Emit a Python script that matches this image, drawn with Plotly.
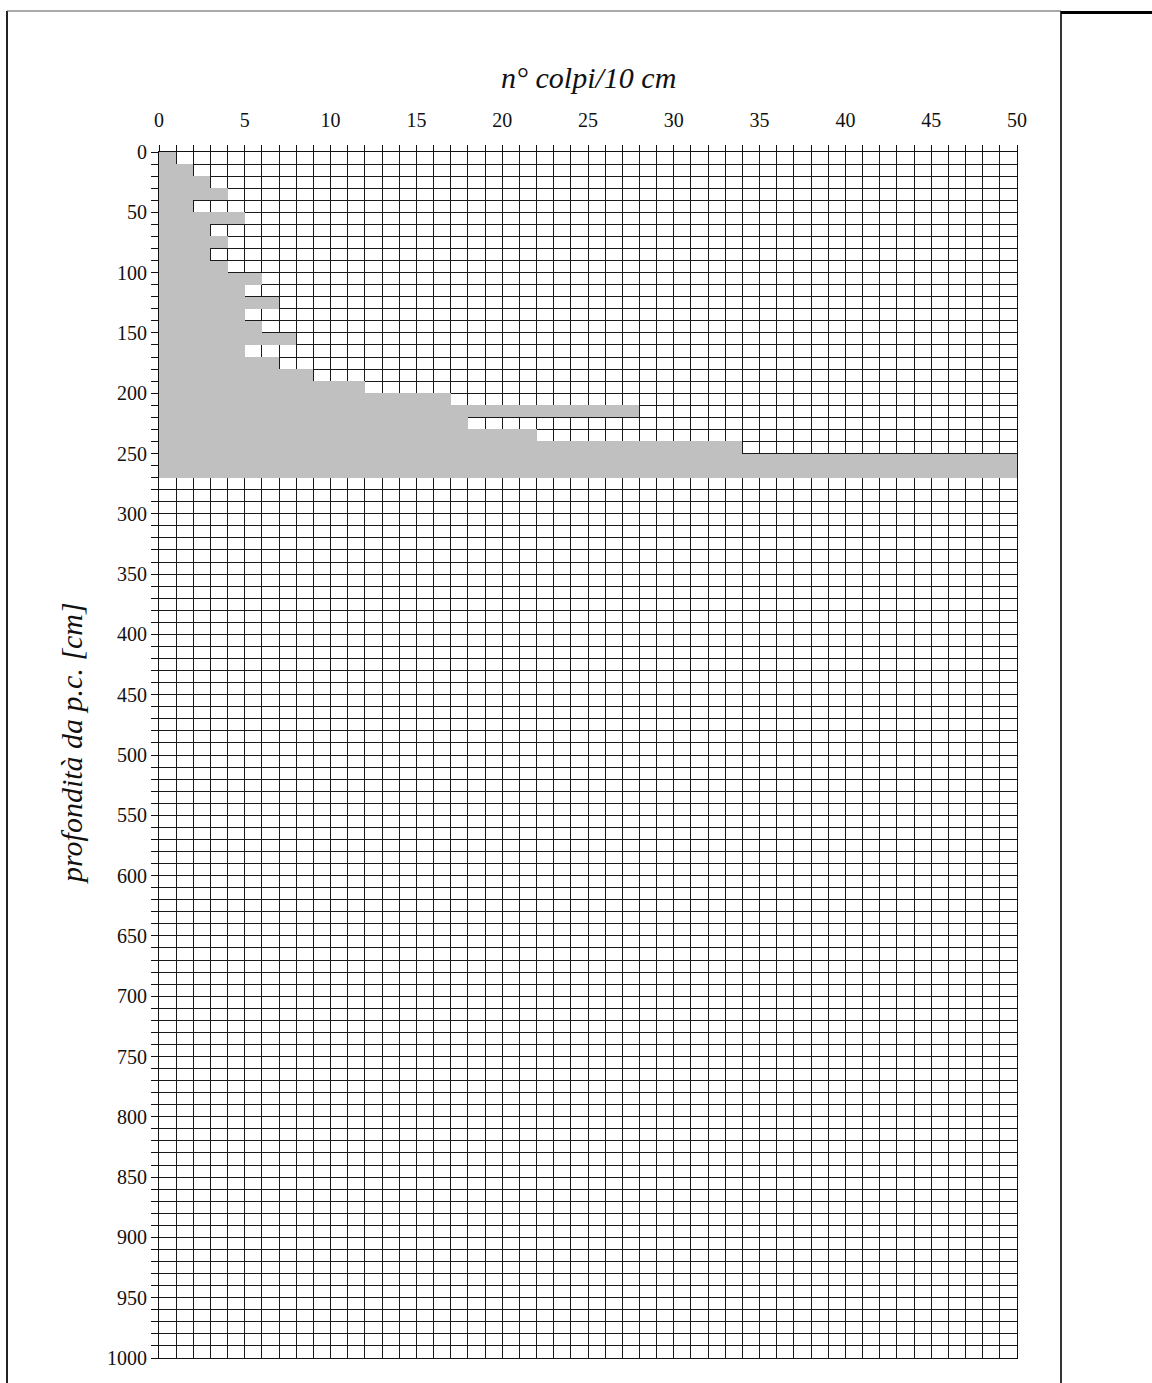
import plotly.graph_objects as go

# Depth intervals (cm, top of each 10 cm step) and blow counts per 10 cm
depth_top = [0, 10, 20, 30, 40, 50, 60, 70, 80, 90, 100, 110, 120, 130, 140,
             150, 160, 170, 180, 190, 200, 210, 220, 230, 240, 250, 260]
blows = [1, 2, 3, 4, 2, 5, 3, 4, 3, 4, 6, 5, 7, 5, 6,
         8, 5, 7, 9, 12, 17, 28, 18, 22, 34, 50, 50]
step = 10
x_ticks = [0, 5, 10, 15, 20, 25, 30, 35, 40, 45, 50]
y_ticks = list(range(0, 1001, 50))

W, H = 1152, 1383
L, R, T, B = 159, 1017, 152, 1358  # plot area in pixels

fig = go.Figure()
fig.add_trace(go.Bar(
    x=blows,
    y=[d + step / 2 for d in depth_top],
    width=[step] * len(depth_top),
    orientation="h",
    marker=dict(color="#c0c0c0", line=dict(width=0)),
    hoverinfo="x+y",
    showlegend=False,
))

font_tick = dict(family="Liberation Serif, Times New Roman, serif", size=20, color="#111")
font_title = dict(family="Liberation Serif, Times New Roman, serif", size=30, color="#111")

fig.update_layout(
    width=W, height=H,
    margin=dict(l=L, r=W - R, t=T, b=H - B, pad=0),
    paper_bgcolor="white", plot_bgcolor="white",
    bargap=0,
    xaxis=dict(
        side="top", range=[0, 50], tickvals=x_ticks,
        ticktext=[str(v) for v in x_ticks],
        ticks="outside", ticklen=6, tickwidth=1, tickcolor="#111",
        showgrid=True, gridcolor="#1a1a1a", gridwidth=1,
        minor=dict(dtick=1, showgrid=True, gridcolor="#1a1a1a", gridwidth=1,
                   ticks="outside", ticklen=6, tickcolor="#111", tickwidth=1),
        showline=True, linecolor="#111", linewidth=1, mirror=True,
        zeroline=False, tickfont=font_tick, ticklabelstandoff=10,
    ),
    yaxis=dict(
        range=[1000, 0], tickvals=y_ticks,
        ticktext=[str(v) for v in y_ticks],
        ticks="outside", ticklen=7, tickwidth=1, tickcolor="#111",
        showgrid=True, gridcolor="#1a1a1a", gridwidth=1,
        minor=dict(dtick=10, showgrid=True, gridcolor="#1a1a1a", gridwidth=1,
                   ticks="outside", ticklen=7, tickcolor="#111", tickwidth=1),
        showline=True, linecolor="#111", linewidth=1, mirror=True,
        zeroline=False, tickfont=font_tick,
    ),
)

def px(p):
    return (p - L) / (R - L)

def py(p):
    return (B - p) / (B - T)

# titles
fig.add_annotation(text="<i>n° colpi/10 cm</i>", xref="paper", yref="paper",
                   x=px(588), y=py(77), showarrow=False, font=font_title,
                   xanchor="center", yanchor="middle")
fig.add_annotation(text="<i>profondità da p.c. [cm]</i>", xref="paper", yref="paper",
                   x=px(71), y=py(743), showarrow=False, font=font_title,
                   textangle=-90, xanchor="center", yanchor="middle")

# outer frame
shapes = [
    dict(type="line", xref="paper", yref="paper", x0=px(7), x1=px(7), y0=py(11), y1=py(1390),
         line=dict(color="#222", width=2)),
    dict(type="line", xref="paper", yref="paper", x0=px(7), x1=px(1061), y0=py(11), y1=py(11),
         line=dict(color="#555", width=1.2)),
    dict(type="line", xref="paper", yref="paper", x0=px(1061), x1=px(1061), y0=py(11), y1=py(1390),
         line=dict(color="#333", width=2)),
    dict(type="line", xref="paper", yref="paper", x0=px(1061), x1=px(1160), y0=py(12.5), y1=py(12.5),
         line=dict(color="#000", width=3)),
]
fig.update_layout(shapes=shapes)

fig.write_html("out.html", config={"displayModeBar": False},
               post_script="document.body.style.margin='0';document.body.style.overflow='hidden';")
